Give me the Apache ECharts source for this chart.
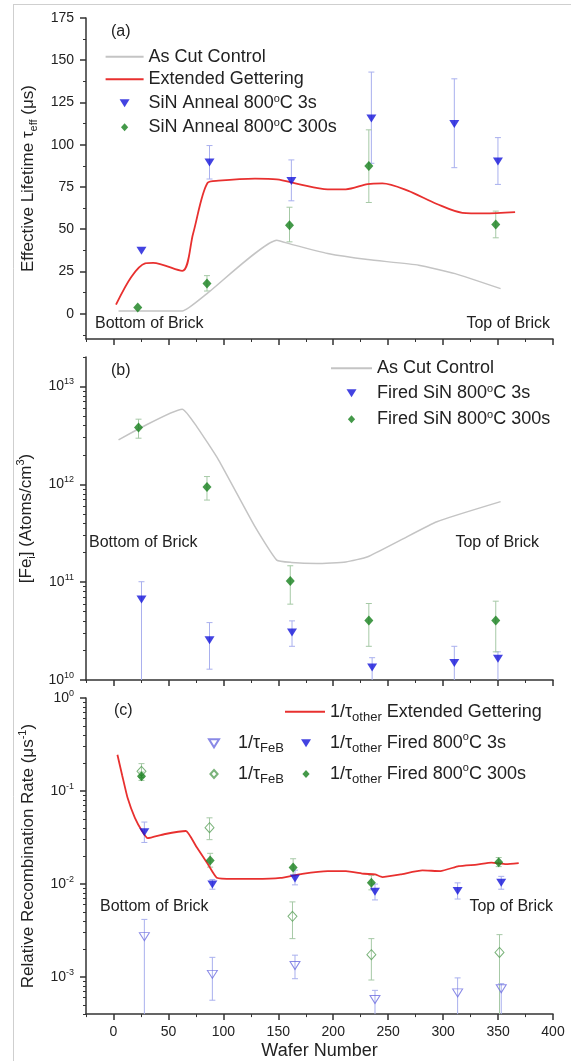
<!DOCTYPE html>
<html>
<head>
<meta charset="utf-8">
<script src="https://cdn.jsdelivr.net/npm/echarts@6/dist/echarts.min.js"></script>
<style>
  html, body { margin: 0; padding: 0; background: #fff; }
  #chart { width: 571px; height: 1061px; }
</style>
</head>
<body>
<div id="chart"></div>
<script>
// ---- tick values ----
const xMajorTicks = [0, 50, 100, 150, 200, 250, 300, 350, 400];
const xMinorTicks = [-25, 25, 75, 125, 175, 225, 275, 325, 375];
const lifeMajorTicks = [0, 25, 50, 75, 100, 125, 150, 175];
const lifeMinorTicks = [-12.5, 12.5, 37.5, 62.5, 87.5, 112.5, 137.5, 162.5];
const feMajorTicks = [1e10, 1e11, 1e12, 1e13];
const feMinorTicks = [2e10, 3e10, 4e10, 5e10, 6e10, 7e10, 8e10, 9e10,
  2e11, 3e11, 4e11, 5e11, 6e11, 7e11, 8e11, 9e11,
  2e12, 3e12, 4e12, 5e12, 6e12, 7e12, 8e12, 9e12, 2e13];
const rateMajorTicks = [1e-3, 1e-2, 1e-1, 1];
const rateMinorTicks = [4e-4, 5e-4, 6e-4, 7e-4, 8e-4, 9e-4,
  2e-3, 3e-3, 4e-3, 5e-3, 6e-3, 7e-3, 8e-3, 9e-3,
  2e-2, 3e-2, 4e-2, 5e-2, 6e-2, 7e-2, 8e-2, 9e-2,
  0.2, 0.3, 0.4, 0.5, 0.6, 0.7, 0.8, 0.9];

// ---- (a) effective lifetime, us ----
const lifeAsCut = [[4.6, 1.6], [62.6, 1.6], [85.1, 11.9], [148.6, 43.5], [161.9, 41], [195, 35.6],
  [231.4, 32], [277.8, 28.7], [310.9, 23.7], [352.3, 14.8]];
const lifeGetter = [[2.3, 5.3], [16.2, 21.7], [28.8, 29.7], [36.1, 30], [62.6, 25.3], [72.5, 47.5],
  [85.7, 77.5], [95.7, 78.7], [128.8, 79.9], [148.6, 79.5], [168.5, 76.7], [195, 73.6], [211.5, 73.6],
  [231.4, 76.7], [244.7, 77.1], [267.8, 72.8], [294.3, 64.9], [317.5, 59.7], [337.4, 59.3], [365.5, 60.1]];
const life3sX = [25.5, 87.4, 161.9, 234.7, 310.2, 349.9];
const life3s = [37.2, 89.4, 78.5, 115.5, 112.3, 90];
const life3sLo = [37.2, 79.7, 66.8, 89, 86.4, 76.5];
const life3sHi = [37.2, 99.5, 91, 143, 139, 104.2];
const life300sX = [22.1, 85.1, 160.2, 232.4, 347.9];
const life300s = [3.6, 17.8, 52.4, 87.4, 52.8];
const life300sLo = [3.6, 13.4, 42.5, 65.8, 44.9];
const life300sHi = [3.6, 22.5, 63, 108.8, 60.7];

// ---- (b) interstitial iron, atoms/cm3 ----
const feAsCut = [[4.6, 2.85e12], [62.6, 5.86e12], [75.8, 3.89e12], [95.7, 1.77e12], [128.8, 3.69e11],
  [148.6, 1.68e11], [161.9, 1.59e11], [185, 1.55e11], [211.5, 1.61e11], [231.4, 1.82e11],
  [261.2, 2.69e11], [294.3, 4.15e11], [352.3, 6.65e11]];
const fe3sX = [25.5, 87.4, 162.5, 235.4, 310.2, 349.9];
const fe3s = [6.65e10, 2.55e10, 3.05e10, 1.34e10, 1.49e10, 1.65e10];
const fe3sLo = [1e10, 1.29e10, 2.21e10, 1e10, 1e10, 1e10];
const fe3sHi = [1.01e11, 3.86e10, 4.02e10, 1.69e10, 2.21e10, 1.94e10];
const fe300sX = [22.8, 85.1, 160.9, 232.4, 347.9];
const fe300s = [3.8e12, 9.4e11, 1.03e11, 4.06e10, 4.06e10];
const fe300sLo = [2.96e12, 6.9e11, 5.96e10, 2.21e10, 1.94e10];
const fe300sHi = [4.63e12, 1.2e12, 1.47e11, 6.05e10, 6.39e10];

// ---- (c) relative recombination rate, 1/us ----
const rateGetter = [[3.6, 0.245], [7.9, 0.148], [12.9, 0.084], [19.5, 0.0515], [26.1, 0.037], [31.1, 0.0311],
  [46, 0.0343], [65.9, 0.0372], [75.8, 0.0248], [85.7, 0.0165], [94, 0.0117], [108.9, 0.01135],
  [128.8, 0.01135], [151.9, 0.01163], [171.8, 0.0129], [195, 0.0138], [211.5, 0.0138], [228.1, 0.0129],
  [238, 0.0127], [244.7, 0.0119], [261.2, 0.0127], [281.1, 0.014], [297.6, 0.0138], [314.2, 0.0156],
  [330.7, 0.0162], [344, 0.017], [357.2, 0.0164], [368.8, 0.0168]];
const rateOther3sX = [28.1, 90, 165.2, 238, 313.2, 352.9];
const rateOther3s = [0.036, 0.0099, 0.01145, 0.00827, 0.0084, 0.0103];
const rateOther3sLo = [0.028, 0.0088, 0.0098, 0.00675, 0.0069, 0.0088];
const rateOther3sHi = [0.0464, 0.0112, 0.0141, 0.01, 0.0103, 0.0121];
const rateOther300sX = [25.5, 88, 163.5, 234.7, 350.6];
const rateOther300s = [0.1445, 0.0179, 0.0151, 0.0103, 0.0172];
const rateOther300sLo = [0.13, 0.0152, 0.0124, 0.00866, 0.0154];
const rateOther300sHi = [0.16, 0.0214, 0.0187, 0.0124, 0.0193];
const rateFeB3sX = [28.1, 90, 165.2, 238, 313.2, 352.9];
const rateFeB3s = [0.00272, 0.00107, 0.00133, 0.000575, 0.000676, 0.00075];
const rateFeB3sLo = [0.0004, 0.000564, 0.00096, 0.0004, 0.0004, 0.0004];
const rateFeB3sHi = [0.00417, 0.00163, 0.00172, 0.00072, 0.00098, 0.00085];
const rateFeB300sX = [25.5, 87.4, 162.9, 234.7, 351.3];
const rateFeB300s = [0.163, 0.0403, 0.0045, 0.00174, 0.00184];
const rateFeB300sLo = [0.14, 0.03, 0.00259, 0.00093, 0.0004];
const rateFeB300sHi = [0.197, 0.0515, 0.00643, 0.00259, 0.00286];

const FONT = '"Liberation Sans", Arial, sans-serif';
const INK = '#222';
const AXIS = '#333';
const GRAY = '#c4c4c4';
const RED = '#e8302f';
const BLUE = '#1414d9';
const GREEN = '#15801b';
const BLUE_BAR = '#a9b0ee';
const GREEN_BAR = '#a6c9a6';
const richSup = { s: { fontSize: 9, lineHeight: 9, verticalAlign: 'top', color: INK } };
// legend icons (path icons keep their aspect inside the legend box)
const ICON_LINE = 'rect';
const ICON_TRI = 'path://M-5,-4L5,-4L0,4Z';
const ICON_DIA = 'path://M0,-5L4.5,0L0,5L-4.5,0Z';
const ICON_W = { rect: 0 };
ICON_W[ICON_TRI] = 10;
ICON_W[ICON_DIA] = 7.2;

const chart = echarts.init(document.getElementById('chart'));

function pow10Label(v) {
  return '10{s|' + Math.round(Math.log10(v)) + '}';
}

// main axis (line, major ticks, labels) + a bare axis carrying the minor ticks
function axisPair(dim, gi, type, min, max, major, minor, fmt, extra) {
  const base = { type: type, gridIndex: gi, min: min, max: max, position: dim === 'x' ? 'bottom' : 'left',
    splitLine: { show: false } };
  if (type === 'log') base.logBase = 10;
  const main = Object.assign({}, base, {
    axisLine: { show: true, onZero: false, lineStyle: { color: AXIS, width: 1.5 } },
    axisTick: { show: true, customValues: major, length: 6, lineStyle: { color: AXIS, width: 1.5 } },
    axisLabel: fmt ? { show: true, customValues: major, formatter: fmt, fontSize: 14, color: INK,
      fontFamily: FONT, lineHeight: 18, margin: dim === 'x' ? 9 : 12, rich: richSup } : { show: false }
  }, extra || {});
  const sub = Object.assign({}, base, {
    axisLine: { show: false, onZero: false },
    axisTick: { show: true, customValues: minor, length: 3, lineStyle: { color: AXIS, width: 1 } },
    axisLabel: { show: false }
  });
  return [main, sub];
}

function yName(text, gap) {
  return { name: text, nameLocation: 'middle', nameRotate: 90, nameGap: gap,
    nameTextStyle: { fontSize: 17, color: INK, fontFamily: FONT, lineHeight: 22,
      rich: { sub: { fontSize: 11, lineHeight: 10, verticalAlign: 'bottom', color: INK },
              s: { fontSize: 11, lineHeight: 10, verticalAlign: 'top', color: INK } } } };
}

function lineSeries(gi, name, data, color, width, smooth) {
  return { type: 'line', name: name, xAxisIndex: 2 * gi, yAxisIndex: 2 * gi, data: data,
    symbol: 'none', smooth: smooth, lineStyle: { color: color, width: width }, itemStyle: { color: color },
    z: 2, silent: true };
}

function dotSeries(gi, name, xs, ys, symbol, size, color, hollow) {
  return { type: 'scatter', name: name, xAxisIndex: 2 * gi, yAxisIndex: 2 * gi,
    data: xs.map((x, i) => [x, ys[i]]), symbol: symbol, symbolSize: size,
    symbolRotate: symbol === 'triangle' ? 180 : 0,
    itemStyle: hollow ? { color: 'rgba(255,255,255,0)', borderColor: color, borderWidth: 1 } : { color: color },
    z: 3, silent: true };
}

function renderBar(params, api) {
  const x = api.value(0);
  const top = api.coord([x, api.value(2)]);
  const bot = api.coord([x, api.value(1)]);
  if (Math.abs(bot[1] - top[1]) < 1) return null;
  const cs = params.coordSys;
  const yEnd = Math.min(bot[1], cs.y + cs.height);
  const style = { stroke: api.visual('color'), lineWidth: 1 };
  const children = [
    { type: 'line', shape: { x1: top[0], y1: top[1], x2: top[0], y2: yEnd }, style: style },
    { type: 'line', shape: { x1: top[0] - 3, y1: top[1], x2: top[0] + 3, y2: top[1] }, style: style }
  ];
  if (bot[1] < cs.y + cs.height - 0.5) {
    children.push({ type: 'line', shape: { x1: bot[0] - 3, y1: bot[1], x2: bot[0] + 3, y2: bot[1] }, style: style });
  }
  return { type: 'group', children: children };
}

function barSeries(gi, xs, lo, hi, color) {
  return { type: 'custom', xAxisIndex: 2 * gi, yAxisIndex: 2 * gi, renderItem: renderBar,
    data: xs.map((x, i) => [x, lo[i], hi[i]]), encode: { x: 0, y: [1, 2] },
    itemStyle: { color: color }, z: 1, silent: true };
}

// boxLeft: left edge of the (line) sample box; symbols sit centred in it
function legendItem(name, icon, boxLeft, centerY, text, width, lh) {
  const isLine = icon === ICON_LINE;
  const left = isLine ? boxLeft : boxLeft + (width - ICON_W[icon]) / 2;
  return { data: [{ name: name, icon: icon }], left: left, top: centerY - lh / 2, padding: 0, itemGap: 0,
    itemWidth: width, itemHeight: isLine ? 2 : 8, symbolRotate: 0, selectedMode: false,
    formatter: () => text,
    textStyle: { fontSize: 18, color: INK, fontFamily: FONT, lineHeight: lh,
      rich: { s: { fontSize: 11, lineHeight: 10, verticalAlign: 'top', color: INK },
              sub: { fontSize: 13, lineHeight: 10, verticalAlign: 'bottom', color: INK } } } };
}

function label(text, x, y, align) {
  return { type: 'text', x: x, y: y, silent: true,
    style: { text: text, fontSize: 16, fill: INK, fontFamily: FONT, align: align || 'left', verticalAlign: 'middle' } };
}

const xA = axisPair('x', 0, 'value', -25, 400, xMajorTicks, xMinorTicks, null);
const xB = axisPair('x', 1, 'value', -25, 400, xMajorTicks, xMinorTicks, null);
const xC = axisPair('x', 2, 'value', -25, 400, xMajorTicks, xMinorTicks, v => String(v),
  { name: 'Wafer Number', nameLocation: 'middle', nameGap: 24,
    nameTextStyle: { fontSize: 18, color: INK, fontFamily: FONT } });
const yA = axisPair('y', 0, 'value', -15, 175, lifeMajorTicks, lifeMinorTicks, v => String(v),
  yName('Effective Lifetime τ{sub|eff} (μs)', 40));
const yB = axisPair('y', 1, 'log', 1e10, 2e13, feMajorTicks, feMinorTicks, pow10Label,
  yName('[Fe{sub|i}] (Atoms/cm{s|3})', 40));
const yC = axisPair('y', 2, 'log', 4e-4, 1, rateMajorTicks, rateMinorTicks, pow10Label,
  yName('Relative Recombination Rate (μs{s|-1})', 38));

const option = {
  animation: false,
  backgroundColor: '#fff',
  textStyle: { fontFamily: FONT },
  grid: [
    { left: 86, right: 18, top: 18, height: 321 },
    { left: 86, right: 18, top: 357, height: 323 },
    { left: 86, right: 18, top: 698, height: 321 }
  ],
  xAxis: [].concat(xA, xB, xC),
  yAxis: [].concat(yA, yB, yC),
  legend: [
    legendItem('a_cut', ICON_LINE, 105.6, 56.7, 'As Cut Control', 38, 20),
    legendItem('a_get', ICON_LINE, 105.6, 79.3, 'Extended Gettering', 38, 20),
    legendItem('a_3s', ICON_TRI, 105.6, 103.3, 'SiN Anneal 800{s|o}C 3s', 38, 20),
    legendItem('a_300s', ICON_DIA, 105.6, 127.3, 'SiN Anneal 800{s|o}C 300s', 38, 20),
    legendItem('b_cut', ICON_LINE, 331, 368.3, 'As Cut Control', 41, 20),
    legendItem('b_3s', ICON_TRI, 331, 393.3, 'Fired SiN 800{s|o}C 3s', 41, 20),
    legendItem('b_300s', ICON_DIA, 331, 419.3, 'Fired SiN 800{s|o}C 300s', 41, 20),
    legendItem('c_get', ICON_LINE, 285, 711.7, '1/τ{sub|other} Extended Gettering', 40, 24),
    legendItem('c_feb3s', ICON_TRI, 194, 743.3, '1/τ{sub|FeB}', 38, 24),
    legendItem('c_oth3s', ICON_TRI, 287, 743.3, '1/τ{sub|other} Fired 800{s|o}C 3s', 38, 24),
    legendItem('c_feb300s', ICON_DIA, 194, 774, '1/τ{sub|FeB}', 38, 24),
    legendItem('c_oth300s', ICON_DIA, 287, 774, '1/τ{sub|other} Fired 800{s|o}C 300s', 38, 24)
  ],
  graphic: [
    { type: 'line', silent: true, shape: { x1: 13, y1: 4.5, x2: 571, y2: 4.5 }, style: { stroke: '#cfcfcf', lineWidth: 1 } },
    { type: 'line', silent: true, shape: { x1: 13.5, y1: 4, x2: 13.5, y2: 1061 }, style: { stroke: '#cfcfcf', lineWidth: 1 } },
    label('(a)', 111, 32),
    label('(b)', 111, 371),
    label('(c)', 114, 711),
    label('Bottom of Brick', 95, 324),
    label('Top of Brick', 550, 324, 'right'),
    label('Bottom of Brick', 89, 543),
    label('Top of Brick', 539, 543, 'right'),
    label('Bottom of Brick', 100, 907),
    label('Top of Brick', 553, 907, 'right')
  ],
  series: [
    // (a)
    barSeries(0, life3sX, life3sLo, life3sHi, BLUE_BAR),
    barSeries(0, life300sX, life300sLo, life300sHi, GREEN_BAR),
    lineSeries(0, 'a_cut', lifeAsCut, GRAY, 1.5, 0.15),
    lineSeries(0, 'a_get', lifeGetter, RED, 1.8, 0.3),
    dotSeries(0, 'a_3s', life3sX, life3s, 'triangle', [10, 8], BLUE, false),
    dotSeries(0, 'a_300s', life300sX, life300s, 'diamond', [9, 10], GREEN, false),
    // (b)
    barSeries(1, fe3sX, fe3sLo, fe3sHi, BLUE_BAR),
    barSeries(1, fe300sX, fe300sLo, fe300sHi, GREEN_BAR),
    lineSeries(1, 'b_cut', feAsCut, GRAY, 1.5, 0.15),
    dotSeries(1, 'b_3s', fe3sX, fe3s, 'triangle', [10, 8], BLUE, false),
    dotSeries(1, 'b_300s', fe300sX, fe300s, 'diamond', [9, 10], GREEN, false),
    // (c)
    barSeries(2, rateFeB3sX, rateFeB3sLo, rateFeB3sHi, BLUE_BAR),
    barSeries(2, rateFeB300sX, rateFeB300sLo, rateFeB300sHi, GREEN_BAR),
    barSeries(2, rateOther3sX, rateOther3sLo, rateOther3sHi, BLUE_BAR),
    barSeries(2, rateOther300sX, rateOther300sLo, rateOther300sHi, GREEN_BAR),
    lineSeries(2, 'c_get', rateGetter, RED, 1.8, 0.15),
    dotSeries(2, 'c_feb3s', rateFeB3sX, rateFeB3s, 'triangle', [10, 8], '#6c6ce0', true),
    dotSeries(2, 'c_feb300s', rateFeB300sX, rateFeB300s, 'diamond', [9, 10], '#5aa05a', true),
    dotSeries(2, 'c_oth3s', rateOther3sX, rateOther3s, 'triangle', [10, 8], BLUE, false),
    dotSeries(2, 'c_oth300s', rateOther300sX, rateOther300s, 'diamond', [9, 10], GREEN, false)
  ]
};

chart.setOption(option);
</script>
</body>
</html>
